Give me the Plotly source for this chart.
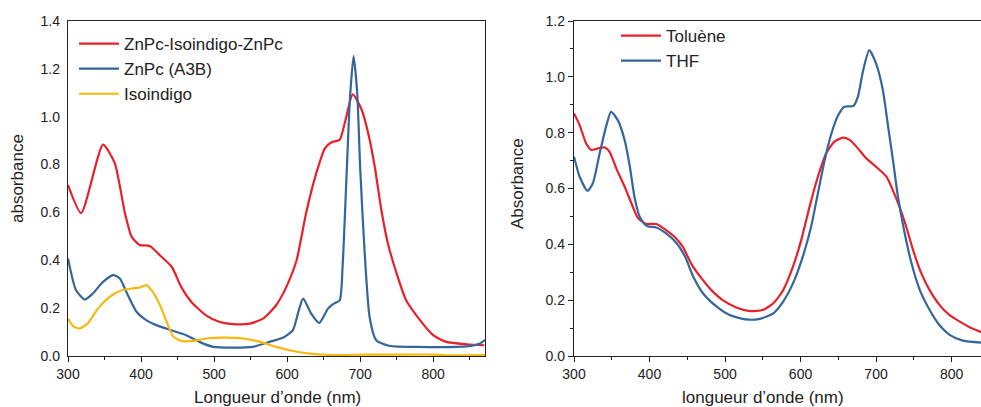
import plotly.graph_objects as go

# ---- Left panel data ----
red_l_x = [300, 318, 348, 364, 378, 387, 398, 412, 426, 442, 455, 469, 489, 508, 526, 549, 567, 585, 599, 613, 626, 640, 652, 661, 672, 679, 690, 702, 711, 720, 729, 738, 750, 763, 782, 800, 818, 846, 870]
red_l_y = [0.715, 0.597, 0.883, 0.806, 0.597, 0.499, 0.464, 0.46, 0.42, 0.373, 0.289, 0.226, 0.17, 0.142, 0.133, 0.135, 0.156, 0.212, 0.289, 0.40, 0.597, 0.764, 0.869, 0.893, 0.904, 0.974, 1.093, 1.03, 0.932, 0.792, 0.611, 0.471, 0.345, 0.233, 0.15, 0.087, 0.059, 0.049, 0.045]

blue_l_x = [300, 311, 323, 334, 348, 362, 371, 382, 394, 407, 421, 439, 462, 480, 499, 526, 553, 576, 595, 608, 616, 622, 633, 644, 656, 663, 672, 676, 681, 686, 691, 696, 700, 706, 713, 722, 741, 777, 846, 864, 871]
blue_l_y = [0.408, 0.275, 0.236, 0.261, 0.31, 0.338, 0.324, 0.254, 0.184, 0.15, 0.129, 0.11, 0.087, 0.059, 0.038, 0.035, 0.038, 0.059, 0.077, 0.108, 0.191, 0.24, 0.177, 0.138, 0.198, 0.217, 0.233, 0.373, 0.722, 1.072, 1.253, 1.10, 0.792, 0.443, 0.163, 0.066, 0.042, 0.038, 0.04, 0.052, 0.068]

yel_l_x = [300, 307, 316, 327, 341, 357, 371, 387, 398, 407, 416, 426, 435, 444, 455, 471, 489, 512, 535, 563, 585, 608, 631, 663, 709, 754, 800, 823, 871]
yel_l_y = [0.156, 0.124, 0.115, 0.136, 0.198, 0.247, 0.272, 0.282, 0.286, 0.296, 0.268, 0.212, 0.143, 0.082, 0.063, 0.063, 0.073, 0.077, 0.075, 0.059, 0.038, 0.021, 0.01, 0.004, 0.006, 0.006, 0.006, 0.003, 0.004]

# ---- Right panel data ----
tol_x = [300, 307.5, 316, 323, 332, 341, 347, 356, 367, 376, 385, 396, 409, 422, 433, 444, 455, 469, 482, 497, 515, 533, 550, 564, 577, 590, 601, 612, 623, 634, 645, 656, 665, 674, 687, 700, 714, 722, 731, 740, 749, 760, 771, 784, 797, 811, 824, 840]
tol_y = [0.869, 0.827, 0.762, 0.738, 0.744, 0.747, 0.732, 0.672, 0.607, 0.547, 0.493, 0.473, 0.473, 0.451, 0.427, 0.392, 0.332, 0.278, 0.236, 0.2, 0.174, 0.161, 0.165, 0.189, 0.236, 0.32, 0.416, 0.535, 0.642, 0.726, 0.768, 0.782, 0.774, 0.75, 0.708, 0.678, 0.642, 0.595, 0.535, 0.463, 0.38, 0.296, 0.236, 0.183, 0.147, 0.123, 0.103, 0.085]

thf_x = [300, 307.5, 318, 325, 334, 343, 349, 358, 367, 374, 380, 387, 396, 409, 422, 436, 447, 458, 471, 489, 506, 528, 546, 564, 577, 590, 603, 614, 623, 632, 641, 650, 658, 670, 676, 683, 691, 700, 709, 716, 723, 729, 738, 747, 758, 771, 784, 798, 815, 840]
thf_y = [0.714, 0.642, 0.592, 0.619, 0.726, 0.827, 0.875, 0.845, 0.774, 0.678, 0.571, 0.499, 0.466, 0.46, 0.439, 0.404, 0.356, 0.284, 0.224, 0.177, 0.147, 0.131, 0.133, 0.153, 0.195, 0.26, 0.356, 0.463, 0.583, 0.702, 0.798, 0.863, 0.893, 0.896, 0.929, 1.024, 1.096, 1.048, 0.953, 0.822, 0.69, 0.571, 0.439, 0.332, 0.236, 0.165, 0.111, 0.075, 0.055, 0.048]

left_title_x = "Longueur d’onde (nm)"
left_title_y = "absorbance"
right_title_x = "longueur d’onde (nm)"
right_title_y = "Absorbance"

RED = "#E8202A"
BLUE = "#34669B"
YEL = "#F7B90F"
FONT = "Liberation Sans, Arial, sans-serif"
INK = "#222222"

W, H = 981, 407
MT, MB = 21, 51
PH = H - MT - MB

fig = go.Figure()

def add(x, y, name, color, xa, ya, legend):
    fig.add_trace(go.Scatter(x=x, y=y, name=name, mode="lines",
                             line=dict(color=color, width=2.2, shape="spline", smoothing=0.6),
                             xaxis=xa, yaxis=ya, legend=legend))

add(red_l_x, red_l_y, "ZnPc-Isoindigo-ZnPc", RED, "x", "y", "legend")
add(blue_l_x, blue_l_y, "ZnPc (A3B)", BLUE, "x", "y", "legend")
add(yel_l_x, yel_l_y, "Isoindigo", YEL, "x", "y", "legend")
add(tol_x, tol_y, "Toluène", RED, "x2", "y2", "legend2")
add(thf_x, thf_y, "THF", BLUE, "x2", "y2", "legend2")

def ax(**kw):
    d = dict(showline=True, linecolor=INK, linewidth=1.3, mirror=True,
             ticks="outside", ticklen=5, tickwidth=1, tickcolor=INK,
             showgrid=False, zeroline=False, automargin=False,
             tickfont=dict(family=FONT, size=14, color=INK))
    d.update(kw)
    return d

def py(p):
    return (H - MB - p) / PH

fig.update_layout(
    width=W, height=H,
    margin=dict(l=0, r=0, t=MT, b=MB),
    paper_bgcolor="white", plot_bgcolor="white",
    font=dict(family=FONT, color=INK),
    xaxis=ax(domain=[68 / W, 485 / W], range=[300, 871], dtick=100, tick0=300,
             minor=dict(ticks="outside", ticklen=3, dtick=50, tickcolor=INK), anchor="y"),
    yaxis=ax(domain=[0, 1], range=[0, 1.4], dtick=0.2, tickformat=".1f", ticks="",
             ticklabelstandoff=4, anchor="x"),
    xaxis2=ax(domain=[574 / W, 1.0], range=[300, 839], dtick=100, tick0=300,
              minor=dict(ticks="outside", ticklen=3, dtick=50, tickcolor=INK), anchor="y2"),
    yaxis2=ax(domain=[0, 1], range=[0, 1.2], dtick=0.2, tickformat=".1f",
              minor=dict(ticks="outside", ticklen=3, dtick=0.1, tickcolor=INK), anchor="x2"),
    legend=dict(x=74 / W, xanchor="left", y=py(26), yanchor="top",
                bgcolor="rgba(0,0,0,0)", font=dict(family=FONT, size=17, color=INK),
                tracegroupgap=0, itemwidth=40),
    legend2=dict(x=616 / W, xanchor="left", y=py(18), yanchor="top",
                 bgcolor="rgba(0,0,0,0)", font=dict(family=FONT, size=17, color=INK),
                 tracegroupgap=0, itemwidth=40),
    showlegend=True,
)

title_font = dict(family=FONT, size=17, color=INK)
fig.add_annotation(text=left_title_x, xref="paper", yref="paper", x=277 / W, y=py(397),
                   showarrow=False, font=title_font, xanchor="center", yanchor="middle")
fig.add_annotation(text=right_title_x, xref="paper", yref="paper", x=763 / W, y=py(397),
                   showarrow=False, font=title_font, xanchor="center", yanchor="middle")
fig.add_annotation(text=left_title_y, xref="paper", yref="paper", x=17 / W, y=py(179),
                   showarrow=False, font=title_font, textangle=-90, xanchor="center", yanchor="middle")
fig.add_annotation(text=right_title_y, xref="paper", yref="paper", x=517 / W, y=py(184),
                   showarrow=False, font=title_font, textangle=-90, xanchor="center", yanchor="middle")

fig.write_html("out.html", config={"displayModeBar": False},
               post_script="document.body.style.margin='0';document.body.style.overflow='hidden';")
